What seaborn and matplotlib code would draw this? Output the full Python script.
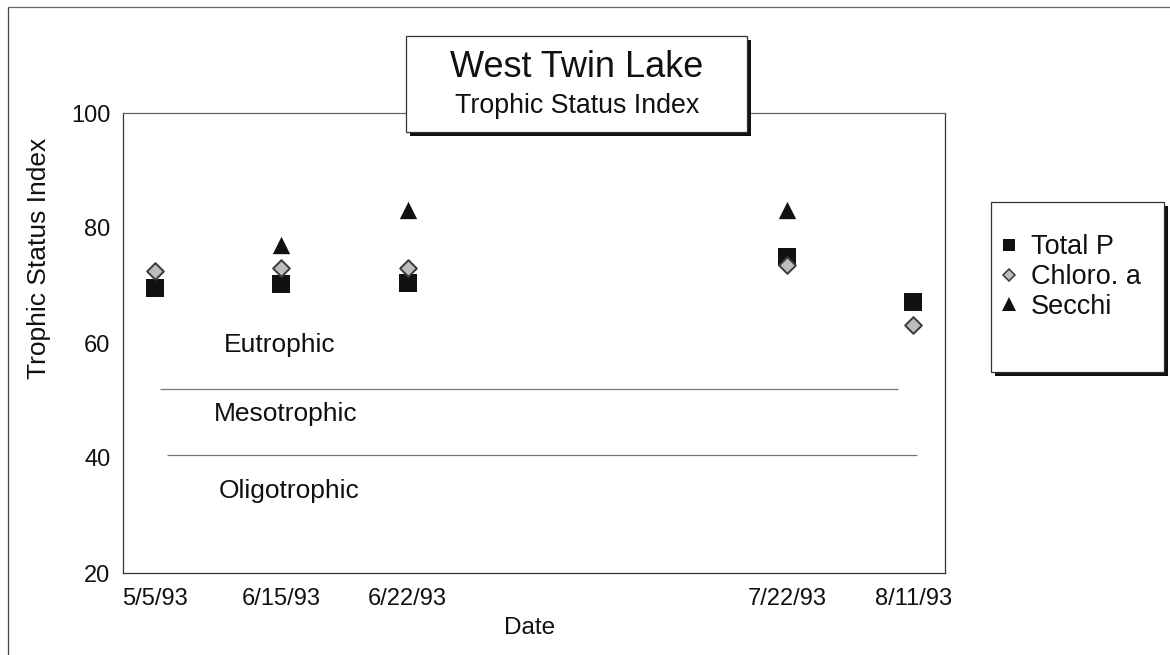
import numpy as np
import pandas as pd
import matplotlib
matplotlib.use("Agg")
import matplotlib.pyplot as plt
from matplotlib.patches import Rectangle
from matplotlib.lines import Line2D
import seaborn as sns

# ---- data ----
dates = ["5/5/93", "6/15/93", "6/22/93", "7/22/93", "8/11/93"]
slots = ["5/5/93", "6/15/93", "6/22/93", "slot_a", "slot_b", "7/22/93", "8/11/93"]
tick_labels = ["5/5/93", "6/15/93", "6/22/93", "", "", "7/22/93", "8/11/93"]
total_p = [69.5, 70.2, 70.5, 74.9, 67.2]
chloro_a = [72.6, 73.0, 73.0, 73.6, 63.1]
secchi = [np.nan, 77.0, 83.1, 83.1, np.nan]
series_names = ["Total P", "Chloro. a", "Secchi"]
boundaries = [52.0, 40.5]
zone_names = ["Eutrophic", "Mesotrophic", "Oligotrophic"]
zone_y = [59.6, 47.7, 34.3]
zone_x = [0.99, 1.04, 1.06]
y_ticks = [20, 40, 60, 80, 100]

sns.set_style("white")
plt.rcParams["font.family"] = ["Liberation Sans", "DejaVu Sans"]

df = pd.DataFrame({
    "Date": dates * 3,
    "Series": [series_names[0]] * 5 + [series_names[1]] * 5 + [series_names[2]] * 5,
    "Value": total_p + chloro_a + secchi,
})

W, H = 1170, 655
fig = plt.figure(figsize=(W / 100, H / 100), dpi=100)
ax = fig.add_axes([123 / W, 1 - 573 / H, (945 - 123) / W, (573 - 113) / H])

styles = {
    "Secchi": dict(marker="^", size=12.5, color="#111111", linewidth=0),
    "Total P": dict(marker="s", size=12.5, color="#111111", linewidth=0),
    "Chloro. a": dict(marker="D", size=8.5, color="#bdbdbd", linewidth=1.4, edgecolor="#3a3a3a"),
}
for name in ["Secchi", "Total P", "Chloro. a"]:
    sub = df[df["Series"] == name].dropna()
    sns.stripplot(data=sub, x="Date", y="Value", order=slots, jitter=False,
                  ax=ax, zorder=3, **styles[name])

ax.set_xlim(-0.25, 6.25)
ax.set_ylim(20, 100)
ax.set_yticks(y_ticks)
ax.set_xticks(range(len(slots)))
ax.set_xticklabels(tick_labels)

# zone boundaries
ax.hlines(boundaries[0], 0.04, 5.88, color="#777777", lw=0.9, zorder=2)
ax.hlines(boundaries[1], 0.095, 6.03, color="#777777", lw=0.9, zorder=2)
for nm, xx, yy in zip(zone_names, zone_x, zone_y):
    ax.text(xx, yy, nm, ha="center", va="center", fontsize=19, color="#111111")

for s in ax.spines.values():
    s.set_color("#333333")
    s.set_linewidth(0.9)
ax.spines["top"].set_color("#666666")

ax.tick_params(axis="y", direction="in", length=9, width=0.8, color="#555555",
               labelsize=17, pad=9, labelcolor="#111111")
ax.tick_params(axis="x", direction="in", length=6, width=0.8, color="#333333",
               labelsize=17, pad=11, labelcolor="#111111")

ax.set_xlabel("Date", fontsize=17.5, color="#111111")
ax.set_ylabel("Trophic Status Index", fontsize=19, color="#111111")
ax.xaxis.set_label_coords(0.495, -0.096)
ax.yaxis.set_label_coords(-0.087, 0.685)

# page frame
fig.add_artist(Line2D([8 / W, 8 / W], [0, 1 - 7 / H], color="#444444", lw=0.9))
fig.add_artist(Line2D([8 / W, 1], [1 - 7 / H, 1 - 7 / H], color="#666666", lw=0.9))


def shadow_box(x0, y0, x1, y1, off):
    fig.add_artist(Rectangle(((x0 + off) / W, 1 - (y1 + off) / H), (x1 - x0) / W, (y1 - y0) / H,
                             transform=fig.transFigure, facecolor="#111111", edgecolor="none", zorder=5))
    fig.add_artist(Rectangle((x0 / W, 1 - y1 / H), (x1 - x0) / W, (y1 - y0) / H,
                             transform=fig.transFigure, facecolor="white", edgecolor="#333333",
                             lw=0.9, zorder=6))


# title box
shadow_box(406, 36, 747, 132, 4)
fig.text(577 / W, 1 - 77 / H, "West Twin Lake", ha="center", va="baseline", fontsize=26,
         color="#111111", zorder=7)
fig.text(577 / W, 1 - 113 / H, "Trophic Status Index", ha="center", va="baseline", fontsize=19.3,
         color="#111111", zorder=7)

# legend box
shadow_box(991, 202, 1164, 372, 4)
handles = [
    Line2D([], [], ls="none", marker="s", markersize=9, color="#111111", markeredgewidth=0),
    Line2D([], [], ls="none", marker="D", markersize=6.5, markerfacecolor="#bdbdbd",
           markeredgecolor="#3a3a3a", markeredgewidth=1.1),
    Line2D([], [], ls="none", marker="^", markersize=10, color="#111111", markeredgewidth=0),
]
leg = fig.legend(handles, series_names, loc="center left", bbox_to_anchor=(997 / W, 1 - 277 / H),
                 frameon=False, fontsize=19.5, handlelength=0.9, handletextpad=0.35,
                 labelspacing=0.13, borderpad=0, borderaxespad=0)
leg.set_zorder(8)
for t in leg.get_texts():
    t.set_color("#111111")

fig.savefig("out.png", dpi=100)
